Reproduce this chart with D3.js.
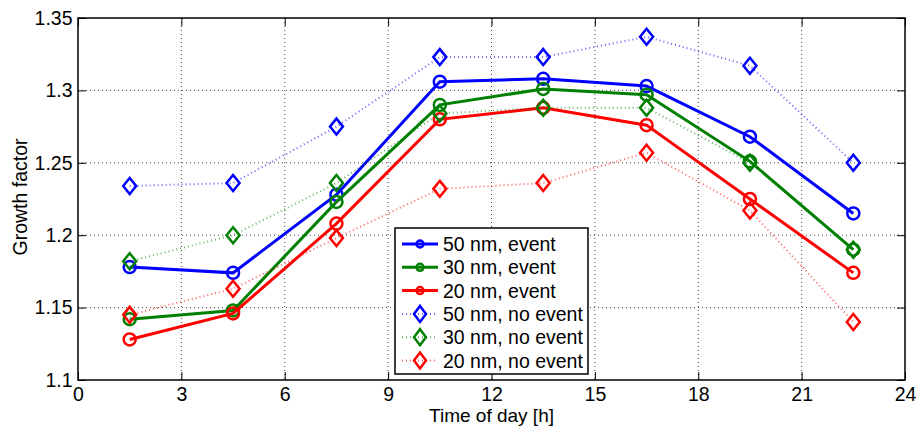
<!DOCTYPE html>
<html>
<head>
<meta charset="utf-8">
<script src="https://cdn.jsdelivr.net/npm/d3@7"></script>
<style>
  body { margin: 0; background: #fff; }
  svg text { font-family: "Liberation Sans", Arial, sans-serif; fill: #000; }
</style>
</head>
<body>
<script>
// time of day (h), bin centres
var hours = [1.5, 4.5, 7.5, 10.5, 13.5, 16.5, 19.5, 22.5];

// growth factors, event days
var ev50 = [1.178, 1.174, 1.228, 1.306, 1.308, 1.303, 1.268, 1.215];
var ev30 = [1.142, 1.148, 1.223, 1.290, 1.301, 1.297, 1.251, 1.190];
var ev20 = [1.128, 1.146, 1.208, 1.280, 1.288, 1.276, 1.225, 1.174];
// growth factors, non-event days
var no50 = [1.234, 1.236, 1.275, 1.323, 1.323, 1.337, 1.317, 1.250];
var no30 = [1.182, 1.200, 1.236, 1.284, 1.288, 1.288, 1.250, 1.190];
var no20 = [1.145, 1.163, 1.198, 1.232, 1.236, 1.257, 1.217, 1.140];

var xTicks = [0, 3, 6, 9, 12, 15, 18, 21, 24];
var yTicks = [1.1, 1.15, 1.2, 1.25, 1.3, 1.35];
var yTickLabels = ['1.1', '1.15', '1.2', '1.25', '1.3', '1.35'];

var seriesNames = ['50 nm, event', '30 nm, event', '20 nm, event',
                   '50 nm, no event', '30 nm, no event', '20 nm, no event'];
var seriesData = [ev50, ev30, ev20, no50, no30, no20];
var colors = ['#0000ff', '#008000', '#ff0000', '#0000ff', '#008000', '#ff0000'];

var W = 917, H = 426;
var plot = {left: 78, right: 905, top: 18, bottom: 380};
var fs = 19.5;

var x = d3.scaleLinear().domain([0, 24]).range([plot.left, plot.right]);
var y = d3.scaleLinear().domain([1.1, 1.35]).range([plot.bottom, plot.top]);

var svg = d3.select('body').append('svg')
            .attr('width', W)
            .attr('height', H);

// grid
svg.selectAll('line.gx').data(xTicks.slice(1, -1)).enter().append('line')
    .attr('class', 'gx')
    .attr('x1', function(d){ return x(d); }).attr('x2', function(d){ return x(d); })
    .attr('y1', plot.top).attr('y2', plot.bottom)
    .attr('stroke', '#444').attr('stroke-width', 1)
    .attr('stroke-dasharray', '1,3');
svg.selectAll('line.gy').data(yTicks.slice(1, -1)).enter().append('line')
    .attr('class', 'gy')
    .attr('y1', function(d){ return y(d); }).attr('y2', function(d){ return y(d); })
    .attr('x1', plot.left).attr('x2', plot.right)
    .attr('stroke', '#444').attr('stroke-width', 1)
    .attr('stroke-dasharray', '1,3');

// axes, ticks inward on all four sides
var tk = 8;
svg.append('g').attr('transform', 'translate(0,' + plot.bottom + ')')
    .call(d3.axisBottom(x).tickValues(xTicks).tickSizeInner(-tk).tickSizeOuter(0).tickPadding(7))
    .call(function(g){ g.select('.domain').remove(); });
svg.append('g').attr('transform', 'translate(0,' + plot.top + ')')
    .call(d3.axisTop(x).tickValues(xTicks).tickSizeInner(-tk).tickSizeOuter(0).tickFormat(''))
    .call(function(g){ g.select('.domain').remove(); });
svg.append('g').attr('transform', 'translate(' + plot.left + ',0)')
    .call(d3.axisLeft(y).tickValues(yTicks).tickSizeInner(-tk).tickSizeOuter(0).tickPadding(5.5)
          .tickFormat(function(d, i){ return yTickLabels[i]; }))
    .call(function(g){ g.select('.domain').remove(); });
svg.append('g').attr('transform', 'translate(' + plot.right + ',0)')
    .call(d3.axisRight(y).tickValues(yTicks).tickSizeInner(-tk).tickSizeOuter(0).tickFormat(''))
    .call(function(g){ g.select('.domain').remove(); });

svg.selectAll('.tick line').attr('stroke', '#000').attr('stroke-width', 1);
svg.selectAll('.tick text').attr('font-size', fs)
    .attr('font-family', '"Liberation Sans", Arial, sans-serif').attr('fill', '#000');

svg.append('rect')
    .attr('x', plot.left).attr('y', plot.top)
    .attr('width', plot.right - plot.left).attr('height', plot.bottom - plot.top)
    .attr('fill', 'none').attr('stroke', '#000').attr('stroke-width', 1.5);

// axis labels
svg.append('text')
    .attr('x', (plot.left + plot.right) / 2).attr('y', 422)
    .attr('text-anchor', 'middle').attr('font-size', 19)
    .text('Time of day [h]');
svg.append('text')
    .attr('transform', 'translate(27,197) rotate(-90)')
    .attr('text-anchor', 'middle').attr('font-size', fs)
    .text('Growth factor');

var line = d3.line()
    .x(function(d, i){ return x(hours[i]); })
    .y(function(d){ return y(d); });

var diamond = function(cx, cy, w, h){
  return 'M' + cx + ',' + (cy - h) + 'L' + (cx + w) + ',' + cy +
         'L' + cx + ',' + (cy + h) + 'L' + (cx - w) + ',' + cy + 'Z';
};

seriesData.forEach(function(vals, s){
  var dotted = s >= 3;
  svg.append('path')
      .datum(vals)
      .attr('d', line)
      .attr('fill', 'none')
      .attr('stroke', colors[s])
      .attr('stroke-width', dotted ? 2 : 3)
      .attr('stroke-opacity', dotted ? 0.6 : 1)
      .attr('stroke-dasharray', dotted ? '1,3' : null);

  if (!dotted) {
    svg.selectAll('circle.s' + s).data(vals).enter().append('circle')
        .attr('class', 's' + s)
        .attr('cx', function(d, i){ return x(hours[i]); })
        .attr('cy', function(d){ return y(d); })
        .attr('r', 6)
        .attr('fill', 'none')
        .attr('stroke', colors[s])
        .attr('stroke-width', 2.5);
  } else {
    svg.selectAll('path.s' + s).data(vals).enter().append('path')
        .attr('class', 's' + s)
        .attr('d', function(d, i){ return diamond(x(hours[i]), y(d), 6.5, 8); })
        .attr('fill', 'none')
        .attr('stroke', colors[s])
        .attr('stroke-width', 2.5);
  }
});

// legend
var lg = {x: 395, y: 228, w: 193, h: 146, row0: 244, rowH: 23.3};
svg.append('rect')
    .attr('x', lg.x).attr('y', lg.y).attr('width', lg.w).attr('height', lg.h)
    .attr('fill', '#fff').attr('stroke', '#000').attr('stroke-width', 1.5);

var items = svg.selectAll('g.leg').data(seriesNames).enter().append('g')
    .attr('class', 'leg')
    .attr('transform', function(d, i){ return 'translate(0,' + (lg.row0 + i * lg.rowH) + ')'; });

items.append('line')
    .attr('x1', 402).attr('x2', 438).attr('y1', 0).attr('y2', 0)
    .attr('stroke', function(d, i){ return colors[i]; })
    .attr('stroke-width', function(d, i){ return i >= 3 ? 2 : 3; })
    .attr('stroke-opacity', function(d, i){ return i >= 3 ? 0.6 : 1; })
    .attr('stroke-dasharray', function(d, i){ return i >= 3 ? '1,3' : null; });

items.each(function(d, i){
  var g = d3.select(this);
  if (i < 3) {
    g.append('circle').attr('cx', 420).attr('cy', 0).attr('r', 3.5)
        .attr('fill', 'none').attr('stroke', colors[i]).attr('stroke-width', 2.5);
  } else {
    g.append('path').attr('d', diamond(420, 0, 6, 8))
        .attr('fill', 'none').attr('stroke', colors[i]).attr('stroke-width', 2.5);
  }
});

items.append('text')
    .attr('x', 443).attr('y', 7)
    .attr('font-size', fs)
    .text(function(d){ return d; });
</script>
</body>
</html>
